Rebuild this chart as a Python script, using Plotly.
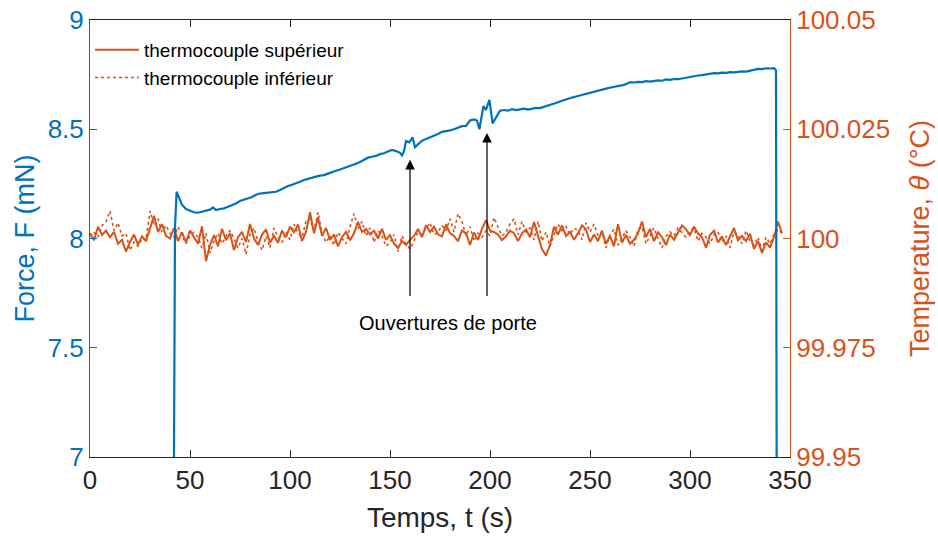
import plotly.graph_objects as go

# ---- data -------------------------------------------------------------
temp_time = list(range(0, 348, 2))  # s

temp_sup = [
    100.0012, 99.9996, 100.0027, 100.0008, 100.0018, 100.0003, 100.0015, 99.9988, 99.9997, 99.9970,
    99.9992, 100.0009, 99.9986, 100.0005, 99.9994, 100.0022, 100.0052, 100.0015, 100.0033, 100.0006,
    100.0000, 100.0024, 99.9994, 100.0014, 99.9991, 100.0018, 100.0003, 99.9988, 100.0028, 99.9948,
    99.9985, 100.0008, 99.9982, 100.0022, 99.9996, 100.0012, 99.9973, 100.0003, 100.0015, 99.9992,
    100.0033, 100.0000, 99.9985, 100.0009, 100.0021, 99.9991, 100.0006, 99.9990, 100.0018, 100.0003,
    100.0027, 100.0014, 100.0032, 99.9994, 100.0015, 100.0060, 100.0012, 100.0048, 100.0006, 100.0024,
    99.9997, 100.0009, 99.9982, 100.0003, 100.0015, 99.9996, 100.0012, 100.0038, 100.0015, 100.0022,
    100.0009, 100.0018, 100.0000, 100.0022, 99.9997, 100.0008, 99.9988, 99.9978, 99.9994, 99.9985,
    99.9997, 100.0006, 100.0022, 100.0003, 100.0030, 100.0015, 100.0027, 100.0009, 100.0005, 100.0032,
    100.0012, 100.0006, 99.9994, 100.0018, 100.0012, 99.9985, 100.0014, 99.9997, 100.0022, 100.0042,
    100.0018, 100.0015, 100.0009, 99.9996, 100.0005, 100.0018, 100.0012, 99.9994, 100.0012, 100.0021,
    100.0003, 100.0038, 100.0006, 99.9976, 99.9961, 99.9985, 100.0027, 100.0009, 100.0030, 100.0006,
    100.0015, 99.9997, 100.0012, 100.0030, 100.0021, 99.9992, 100.0009, 99.9994, 100.0018, 99.9988,
    100.0006, 99.9982, 100.0033, 99.9991, 100.0008, 99.9988, 99.9997, 100.0012, 100.0039, 100.0003,
    100.0022, 99.9994, 100.0014, 100.0003, 99.9985, 100.0009, 99.9997, 100.0015, 100.0030, 100.0021,
    100.0008, 100.0027, 100.0012, 100.0003, 99.9979, 100.0008, 100.0018, 99.9991, 100.0005, 99.9985,
    100.0003, 100.0024, 99.9996, 100.0006, 99.9994, 100.0011, 99.9976, 99.9994, 99.9967, 99.9991,
    99.9979, 100.0003, 100.0039, 100.0012,
]

temp_inf = [
    100.0005, 100.0015, 100.0003, 100.0030, 100.0038, 100.0063, 100.0018, 100.0036, 100.0006, 100.0012,
    99.9973, 99.9992, 99.9982, 100.0000, 99.9997, 100.0063, 100.0030, 100.0045, 100.0015, 100.0030,
    100.0012, 100.0003, 100.0027, 100.0008, 99.9988, 100.0006, 100.0014, 100.0003, 99.9978, 100.0012,
    99.9967, 99.9994, 100.0012, 99.9988, 100.0006, 100.0018, 100.0000, 99.9978, 100.0000, 99.9964,
    100.0009, 100.0024, 99.9994, 99.9973, 100.0005, 99.9979, 100.0024, 100.0003, 99.9991, 100.0015,
    99.9997, 100.0033, 100.0012, 100.0003, 100.0039, 100.0045, 100.0018, 100.0060, 100.0012, 99.9991,
    100.0006, 99.9985, 100.0014, 100.0000, 99.9988, 100.0027, 100.0057, 100.0022, 100.0039, 100.0006,
    100.0024, 99.9991, 100.0018, 100.0006, 99.9982, 99.9991, 100.0009, 99.9970, 100.0006, 99.9988,
    99.9976, 99.9994, 100.0015, 100.0009, 100.0024, 100.0036, 100.0009, 100.0014, 100.0030, 100.0018,
    100.0045, 100.0015, 100.0057, 100.0039, 100.0006, 100.0027, 99.9994, 100.0012, 100.0003, 100.0018,
    100.0006, 100.0048, 100.0027, 100.0006, 100.0014, 100.0033, 100.0045, 100.0009, 100.0039, 100.0015,
    100.0024, 99.9997, 100.0039, 99.9994, 100.0015, 99.9982, 100.0008, 100.0033, 100.0018, 100.0027,
    100.0009, 100.0024, 100.0018, 99.9997, 100.0036, 100.0015, 100.0033, 100.0006, 100.0015, 99.9979,
    100.0009, 100.0021, 99.9985, 100.0000, 100.0018, 100.0003, 99.9982, 100.0021, 100.0027, 99.9988,
    100.0008, 100.0024, 100.0000, 99.9979, 100.0005, 100.0015, 100.0006, 100.0024, 100.0014, 100.0003,
    100.0018, 100.0024, 99.9994, 100.0012, 100.0003, 99.9988, 100.0009, 100.0015, 99.9991, 100.0006,
    99.9979, 100.0015, 100.0008, 99.9988, 100.0018, 99.9994, 99.9985, 100.0003, 99.9973, 100.0003,
    99.9988, 100.0009, 100.0021, 100.0012,
]

force_time = [
    41.5, 42.5, 43.3, 44.5, 46, 48, 50, 52, 54, 56, 58, 60, 61.5, 63, 65, 67, 69, 71, 73, 75,
    77, 79, 81, 83, 85, 87, 89, 91, 93, 95, 97, 99, 101, 103, 105, 107, 109, 111, 113, 115,
    117, 119, 121, 123, 125, 127, 129, 131, 133, 135, 137, 139, 141, 143, 145, 147, 149, 151, 153, 155,
    156, 157, 158, 159.5, 160.5, 161.3, 162.5, 164, 166, 168, 170, 172, 174, 176, 178, 180, 182, 184, 186, 188,
    190, 192, 193.5, 194.7, 195.8, 196.7, 198, 199.7, 201.3, 203, 205, 207, 209, 211, 213, 215, 217, 219, 221, 223,
    225, 227, 229, 231, 233, 235, 237, 239, 241, 243, 245, 247, 249, 251, 253, 255, 257, 259, 261, 263,
    265, 267, 269, 270, 272, 274, 276, 278, 280, 282, 284, 286, 288, 290, 292, 294, 296, 298, 300, 302,
    304, 306, 308, 310, 312, 314, 316, 318, 320, 322, 324, 326, 328, 330, 332, 334, 336, 338, 340, 342,
    343, 343.5,
]
force = [
    6.0, 8.05, 8.214, 8.19, 8.155, 8.135, 8.127, 8.12, 8.118, 8.122, 8.125, 8.132, 8.142, 8.13, 8.135, 8.138, 8.145, 8.152, 8.16, 8.172,
    8.178, 8.185, 8.19, 8.20, 8.206, 8.208, 8.21, 8.212, 8.214, 8.222, 8.232, 8.24, 8.246, 8.252, 8.26, 8.268, 8.274, 8.278, 8.283, 8.288,
    8.29, 8.297, 8.305, 8.31, 8.316, 8.322, 8.328, 8.335, 8.342, 8.35, 8.36, 8.37, 8.374, 8.378, 8.386, 8.39, 8.398, 8.405, 8.40, 8.392,
    8.38, 8.40, 8.446, 8.44, 8.452, 8.463, 8.418, 8.43, 8.448, 8.455, 8.462, 8.468, 8.478, 8.488, 8.49, 8.495, 8.50, 8.508, 8.514, 8.515,
    8.54, 8.545, 8.54, 8.50, 8.56, 8.606, 8.588, 8.634, 8.527, 8.555, 8.585, 8.588, 8.585, 8.592, 8.588, 8.591, 8.594, 8.59, 8.594, 8.598,
    8.597, 8.602, 8.61, 8.615, 8.62, 8.627, 8.634, 8.64, 8.645, 8.65, 8.655, 8.66, 8.666, 8.67, 8.675, 8.68, 8.684, 8.688, 8.692, 8.695,
    8.698, 8.703, 8.71, 8.716, 8.714, 8.717, 8.716, 8.72, 8.718, 8.722, 8.724, 8.722, 8.728, 8.726, 8.73, 8.729, 8.733, 8.736, 8.74, 8.742,
    8.746, 8.748, 8.752, 8.754, 8.757, 8.756, 8.759, 8.758, 8.761, 8.76, 8.763, 8.765, 8.764, 8.769, 8.773, 8.776, 8.775, 8.779, 8.778, 8.78,
    8.77, 6.0,
]

x_ticks = [0, 50, 100, 150, 200, 250, 300, 350]
force_ticks = [7, 7.5, 8, 8.5, 9]
force_tick_labels = ["7", "7.5", "8", "8.5", "9"]
temp_ticks = [99.95, 99.975, 100, 100.025, 100.05]
temp_tick_labels = ["99.95", "99.975", "100", "100.025", "100.05"]

# door openings: (time of arrow, force at arrow head)
door_time = [160, 198.5]
door_head = [8.36, 8.483]
door_tail = 7.73
door_label = "Ouvertures de porte"
door_label_pos = (179, 7.615)

# ---- styling ---------------------------------------------------------
BLUE = "#0072BD"
ORANGE = "#D95319"
DARK = "#262626"
FONT = "Liberation Sans, Arial, sans-serif"

fig = go.Figure()

fig.add_trace(go.Scatter(
    x=temp_time, y=temp_inf, mode="lines", name="thermocouple inférieur",
    line=dict(color=ORANGE, width=1.6, dash="dot"), yaxis="y",
))
fig.add_trace(go.Scatter(
    x=temp_time, y=temp_sup, mode="lines", name="thermocouple supérieur",
    line=dict(color=ORANGE, width=2), yaxis="y",
))
fig.add_trace(go.Scatter(
    x=force_time, y=force, mode="lines", name="Force",
    line=dict(color=BLUE, width=2.2), yaxis="y2", showlegend=False,
))

annotations = []
for t, h in zip(door_time, door_head):
    annotations.append(dict(
        x=t, y=h, xref="x", yref="y2", ax=t, ay=door_tail, axref="x", ayref="y2",
        text="", showarrow=True, arrowhead=2, arrowsize=1.6, arrowwidth=1.2,
        arrowcolor="#000000", standoff=0,
    ))
annotations.append(dict(
    x=door_label_pos[0], y=door_label_pos[1], xref="x", yref="y2",
    text=door_label, showarrow=False, font=dict(size=20, color="#000000", family=FONT),
))

fig.update_layout(
    width=938, height=540,
    margin=dict(l=90, r=148, t=20, b=83),
    plot_bgcolor="white", paper_bgcolor="white",
    font=dict(family=FONT, color=DARK),
    showlegend=True,
    legend=dict(
        x=0.0, y=0.975, xanchor="left", yanchor="top",
        bgcolor="rgba(255,255,255,0)", borderwidth=0,
        font=dict(size=19, color="#000000", family=FONT),
        traceorder="reversed", tracegroupgap=0, itemwidth=44,
    ),
    xaxis=dict(
        range=[0, 350], tickvals=x_ticks, ticks="inside", ticklen=7, automargin=False,
        tickcolor=DARK, showline=True, linecolor=DARK, linewidth=1, mirror="ticks",
        showgrid=False, zeroline=False,
        tickfont=dict(size=26, color=DARK, family=FONT),
        title=dict(text="Temps, t (s)", font=dict(size=28, color=DARK, family=FONT), standoff=13),
    ),
    yaxis=dict(
        side="right", range=[99.95, 100.05], tickvals=temp_ticks, ticktext=temp_tick_labels,
        ticks="inside", ticklen=7, tickcolor=ORANGE, showline=True, linecolor=ORANGE, linewidth=1,
        showgrid=False, zeroline=False, automargin=False,
        tickfont=dict(size=26, color=ORANGE, family=FONT),
        title=dict(text="Temperature, <i>θ</i> (°C)", font=dict(size=27, color=ORANGE, family=FONT), standoff=20),
    ),
    yaxis2=dict(
        side="left", overlaying="y", range=[7, 9], tickvals=force_ticks, ticktext=force_tick_labels,
        ticks="inside", ticklen=7, tickcolor=BLUE, showline=True, linecolor=BLUE, linewidth=1,
        showgrid=False, zeroline=False, automargin=False,
        tickfont=dict(size=26, color=BLUE, family=FONT),
        title=dict(text="Force, F (mN)", font=dict(size=27, color=BLUE, family=FONT), standoff=5),
    ),
    annotations=annotations,
)

fig.write_html(
    "out.html",
    config={"displayModeBar": False},
    post_script="document.body.style.margin='0';document.body.style.padding='0';",
)
